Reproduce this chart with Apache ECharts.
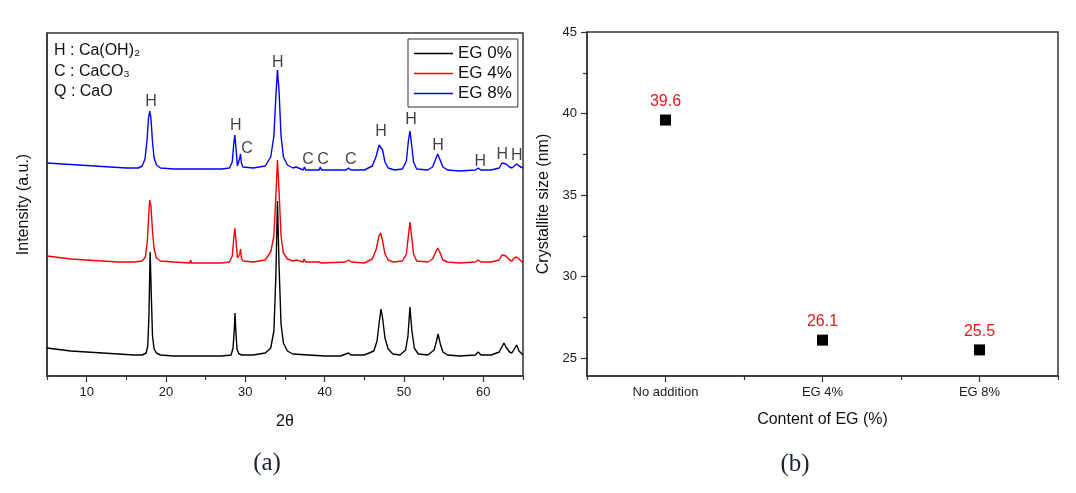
<!DOCTYPE html>
<html>
<head>
<meta charset="utf-8">
<script src="https://cdn.jsdelivr.net/npm/echarts@6/dist/echarts.min.js"></script>
<style>
html,body{margin:0;padding:0;background:#fff;}
#chart{width:1076px;height:493px;}
</style>
</head>
<body>
<div id="chart"></div>
<script>
// ---------- Panel (a): XRD patterns, [2theta, intensity (a.u.)] ----------
const xTickLabels = [10, 20, 30, 40, 50, 60];
const xMinorTicks = [5, 15, 25, 35, 45, 55, 65];
const seriesNames = ['EG 0%', 'EG 4%', 'EG 8%'];

const eg0 = [[5,28],[6,27],[8,25],[10,24],[12,23],[14,22],[16,21],[17,21],[17.5,23],[17.7,30],[17.85,60],[18.0,124],[18.15,80],[18.3,40],[18.5,27],[18.8,23],[19.3,21],[21,20],[23,20],[23.1,21],[25,20],[27,20],[28.2,21],[28.45,28],[28.6,45],[28.7,63],[28.8,45],[28.95,27],[29.2,22],[29.4,23],[29.6,21],[31,21],[32.5,23],[33.2,28],[33.6,45],[33.85,100],[34.05,175],[34.25,110],[34.5,52],[34.8,33],[35.3,25],[36,22],[38,21],[40,20],[42,20],[43.0,23],[43.3,21],[45,21],[46.2,25],[46.6,35],[46.9,55],[47.1,67],[47.3,58],[47.6,38],[48.0,27],[48.6,22],[49.5,21],[50.2,26],[50.5,40],[50.75,69],[51.0,45],[51.3,28],[51.8,22],[53,21],[53.8,26],[54.1,35],[54.3,42],[54.55,33],[54.9,24],[55.5,21],[57,20],[59,21],[59.35,24],[59.7,21],[61,21],[62.0,24],[62.4,30],[62.6,33],[62.85,29],[63.3,24],[63.6,23],[63.9,27],[64.2,31],[64.5,25],[65,21]];

const eg4 = [[5,120],[6,119],[8,117],[10,116],[12,115],[14,114],[16,114],[17.0,115],[17.4,119],[17.65,135],[17.85,165],[17.95,176],[18.1,170],[18.3,145],[18.5,127],[18.8,118],[19.3,115],[21,114],[23,113],[23.1,116],[23.2,113],[25,113],[27,113],[28.0,114],[28.35,120],[28.55,138],[28.68,148],[28.82,135],[29.0,118],[29.15,116],[29.3,122],[29.4,127],[29.5,118],[29.7,115],[31,114],[32.5,116],[33.2,124],[33.6,140],[33.85,180],[34.05,216],[34.25,185],[34.5,140],[34.8,123],[35.3,117],[36,115],[36.4,116],[36.6,114],[37.3,114],[37.4,117],[37.6,114],[39.3,114],[39.4,116],[39.6,113],[42.6,114],[43.0,116],[43.4,114],[45,113],[46.0,117],[46.5,127],[46.85,140],[47.05,143],[47.3,135],[47.6,122],[48.0,116],[48.3,115],[48.5,117],[48.7,114],[49.8,115],[50.3,122],[50.55,140],[50.75,154],[50.95,140],[51.2,122],[51.6,115],[53,114],[53.6,117],[54.0,124],[54.25,128],[54.5,124],[54.9,116],[55.5,114],[57,113],[59.0,114],[59.35,116],[59.7,114],[61,114],[62.0,116],[62.35,121],[62.6,123],[62.85,120],[63.3,116],[63.6,115],[63.9,118],[64.2,119],[64.5,117],[65,113]];

const eg8 = [[5,213],[7,212],[9,211],[11,210],[13,209],[15,208],[16.5,208],[17.0,210],[17.35,217],[17.6,235],[17.8,258],[17.95,265],[18.1,258],[18.3,234],[18.5,218],[18.8,211],[19.3,208],[21,207],[23.0,207],[23.1,209],[23.2,207],[25,207],[27,207],[28.0,208],[28.35,214],[28.55,233],[28.68,241],[28.85,225],[29.0,210],[29.15,210],[29.3,218],[29.4,222],[29.5,213],[29.7,209],[31,208],[32.5,210],[33.2,219],[33.6,240],[33.85,280],[34.05,306],[34.25,285],[34.5,240],[34.8,219],[35.3,211],[36,208],[36.4,209],[36.6,207],[37.3,206],[37.45,209],[37.6,206],[39.3,206],[39.45,209],[39.6,206],[42.7,206],[43.0,208],[43.3,206],[45,206],[46.0,210],[46.5,220],[46.85,231],[47.05,233],[47.3,226],[47.6,214],[48.0,208],[48.4,207],[48.6,209],[48.8,206],[49.8,207],[50.3,215],[50.55,235],[50.75,245],[50.95,232],[51.2,214],[51.6,207],[53,206],[53.6,209],[54.0,217],[54.25,222],[54.5,217],[54.9,209],[55.5,206],[57,205],[59.0,206],[59.35,208],[59.7,206],[61,206],[62.0,208],[62.35,213],[62.6,215],[62.85,212],[63.3,209],[63.6,208],[63.9,210],[64.2,212],[64.5,210],[65,208]];

// phase labels above the EG 8% peaks
const peakLabelX    = [18.1, 28.8, 30.2, 34.1, 37.9, 39.8, 43.3, 47.1, 50.9, 54.3, 59.6, 62.4, 64.2];
const peakLabelY    = [274, 250, 227, 313, 216, 216, 216, 244, 256, 230, 214, 221, 220];
const peakLabelText = ['H', 'H', 'C', 'H', 'C', 'C', 'C', 'H', 'H', 'H', 'H', 'H', 'H'];
const phaseKey = ['H : Ca(OH)\u2082', 'C : CaCO\u2083', 'Q : CaO'];

// ---------- Panel (b): crystallite size ----------
const categories = ['No addition', 'EG 4%', 'EG 8%'];
const crystalliteSize = [39.6, 26.1, 25.5];
const yTickLabelsB = [25, 30, 35, 40, 45];
const yMinorTicksB = [27.5, 32.5, 37.5, 42.5];

const FONT = '"Liberation Sans", Arial, sans-serif';
const AX = '#333';

const chart = echarts.init(document.getElementById('chart'), null, {renderer: 'canvas'});

const axLine = {show: true, lineStyle: {color: AX, width: 1.5}};
const tickStyle = {color: AX, width: 1.2};

const option = {
  animation: false,
  backgroundColor: '#fff',
  textStyle: {fontFamily: FONT},
  grid: [
    {left: 47, top: 33, width: 476, height: 343, show: true, borderColor: AX, borderWidth: 1.5, backgroundColor: 'transparent'},
    {left: 587, top: 32, width: 471, height: 344, show: true, borderColor: AX, borderWidth: 1.5, backgroundColor: 'transparent'}
  ],
  legend: {
    data: seriesNames,
    orient: 'vertical',
    left: 408, top: 39,
    icon: 'rect',
    itemWidth: 39, itemHeight: 1.6, itemGap: 3,
    padding: [6, 6, 5, 6],
    borderColor: AX, borderWidth: 1,
    textStyle: {fontSize: 17, color: '#111', fontFamily: FONT}
  },
  xAxis: [
    {
      type: 'value', gridIndex: 0, min: 5, max: 65,
      axisLine: axLine,
      axisTick: {show: true, inside: false, length: 6, customValues: xTickLabels, lineStyle: tickStyle},
      axisLabel: {customValues: xTickLabels, fontSize: 13, color: '#1a1a1a', margin: 10, fontFamily: FONT},
      splitLine: {show: false},
      name: '2\u03b8', nameLocation: 'middle', nameGap: 38,
      nameTextStyle: {fontSize: 16, color: '#111', fontFamily: FONT}
    },
    {
      type: 'value', gridIndex: 0, min: 5, max: 65, position: 'bottom',
      axisLine: {show: false},
      axisTick: {show: true, inside: false, length: 4, customValues: xMinorTicks, lineStyle: tickStyle},
      axisLabel: {show: false},
      splitLine: {show: false}
    },
    {
      type: 'category', gridIndex: 1, data: categories, boundaryGap: true,
      axisLine: axLine,
      axisTick: {show: true, alignWithLabel: true, length: 6, lineStyle: tickStyle},
      axisLabel: {fontSize: 13, color: '#1a1a1a', margin: 10, fontFamily: FONT},
      name: 'Content of EG (%)', nameLocation: 'middle', nameGap: 36,
      nameTextStyle: {fontSize: 16, color: '#111', fontFamily: FONT}
    },
    {
      type: 'category', gridIndex: 1, data: categories, boundaryGap: true, position: 'bottom',
      axisLine: {show: false},
      axisTick: {show: true, length: 4, lineStyle: tickStyle},
      axisLabel: {show: false}
    }
  ],
  yAxis: [
    {
      type: 'value', gridIndex: 0, min: 0, max: 343,
      axisLine: axLine, axisTick: {show: false}, axisLabel: {show: false},
      splitLine: {show: false},
      name: 'Intensity (a.u.)', nameLocation: 'middle', nameGap: 15,
      nameTextStyle: {fontSize: 16, color: '#111', fontFamily: FONT}
    },
    {
      type: 'value', gridIndex: 1, min: 23.9, max: 45,
      axisLine: axLine,
      axisTick: {show: true, length: 6, customValues: yTickLabelsB, lineStyle: tickStyle},
      axisLabel: {customValues: yTickLabelsB, fontSize: 13, color: '#1a1a1a', margin: 10, fontFamily: FONT},
      splitLine: {show: false},
      name: 'Crystallite size (nm)', nameLocation: 'middle', nameGap: 35,
      nameTextStyle: {fontSize: 16, color: '#111', fontFamily: FONT}
    },
    {
      type: 'value', gridIndex: 1, min: 23.9, max: 45, position: 'left',
      axisLine: {show: false},
      axisTick: {show: true, length: 4, customValues: yMinorTicksB, lineStyle: tickStyle},
      axisLabel: {show: false},
      splitLine: {show: false}
    }
  ],
  series: [
    {name: seriesNames[0], type: 'line', xAxisIndex: 0, yAxisIndex: 0, data: eg0, symbol: 'none', color: '#000', lineStyle: {color: '#000', width: 1.4}},
    {name: seriesNames[1], type: 'line', xAxisIndex: 0, yAxisIndex: 0, data: eg4, symbol: 'none', color: '#ff0000', lineStyle: {color: '#ff0000', width: 1.4}},
    {name: seriesNames[2], type: 'line', xAxisIndex: 0, yAxisIndex: 0, data: eg8, symbol: 'none', color: '#0000ff', lineStyle: {color: '#0000ff', width: 1.4}},
    {
      name: 'peaks', type: 'scatter', xAxisIndex: 0, yAxisIndex: 0, silent: true,
      symbolSize: 0,
      data: peakLabelX.map((x, i) => ({value: [x, peakLabelY[i]], name: peakLabelText[i]})),
      label: {show: true, position: 'inside', formatter: '{b}', fontSize: 16, color: '#111', fontFamily: FONT}
    },
    {
      name: 'size', type: 'scatter', xAxisIndex: 2, yAxisIndex: 1,
      symbol: 'rect', symbolSize: 11,
      itemStyle: {color: '#000', opacity: 1},
      data: crystalliteSize,
      label: {show: true, position: 'top', distance: 5, fontSize: 16, color: '#f01414', fontFamily: FONT,
        formatter: p => p.value.toFixed(1)}
    }
  ],
  graphic: [
    {type: 'text', x: 54, y: 51, style: {text: phaseKey[0], font: '16px ' + FONT, fill: '#111', align: 'left', verticalAlign: 'middle'}},
    {type: 'text', x: 54, y: 72, style: {text: phaseKey[1], font: '16px ' + FONT, fill: '#111', align: 'left', verticalAlign: 'middle'}},
    {type: 'text', x: 54, y: 92, style: {text: phaseKey[2], font: '16px ' + FONT, fill: '#111', align: 'left', verticalAlign: 'middle'}},
    {type: 'text', x: 267, y: 463, style: {text: '(a)', font: '25px "Liberation Serif", "DejaVu Serif", serif', fill: '#1b2238', align: 'center', verticalAlign: 'middle'}},
    {type: 'text', x: 795, y: 464, style: {text: '(b)', font: '25px "Liberation Serif", "DejaVu Serif", serif', fill: '#1b2238', align: 'center', verticalAlign: 'middle'}}
  ]
};
chart.setOption(option);
</script>
</body>
</html>
